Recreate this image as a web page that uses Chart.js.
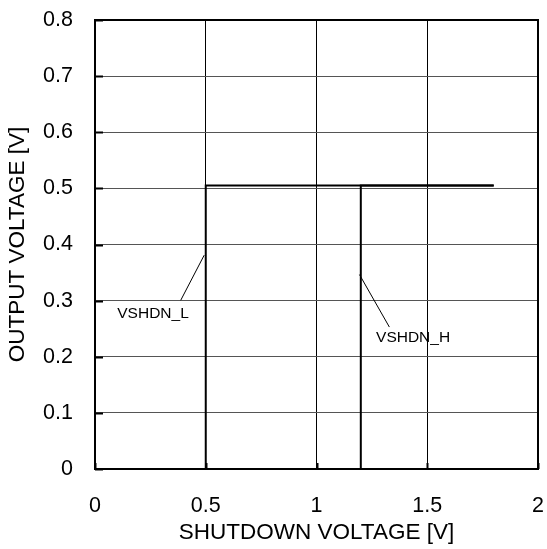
<!DOCTYPE html>
<html>
<head>
<meta charset="utf-8">
<script src="https://cdn.jsdelivr.net/npm/chart.js@4.4.1/dist/chart.umd.min.js"></script>
<style>
  html, body { margin: 0; padding: 0; background: #fff; }
  #wrap { width: 547px; height: 549px; }
</style>
</head>
<body>
<div id="wrap"><canvas id="c" width="547" height="549"></canvas></div>
<script>
// Shutdown-pin sweep: output voltage vs. shutdown voltage
const sweepUpV    = [0, 1.2, 1.2, 1.8];
const sweepUpOut  = [0, 0, 0.505, 0.505];
const sweepDownV  = [1.8, 0.5, 0.5, 0];
const sweepDownOut = [0.505, 0.505, 0, 0];

const xTicks = [0, 0.5, 1, 1.5, 2];
const yTicks = [0, 0.1, 0.2, 0.3, 0.4, 0.5, 0.6, 0.7, 0.8];

// Threshold callouts: text, text anchor, leader start, leader end (data units)
const calloutNames = ['VSHDN_L', 'VSHDN_H'];
const calloutText  = [[0.262, 0.277], [1.436, 0.2345]];
const calloutFrom  = [[0.387, 0.3006], [1.329, 0.2529]];
const calloutTo    = [[0.493, 0.381], [1.194, 0.3464]];

const FONT = '"Liberation Sans", Arial, Helvetica, sans-serif';

function pts(xs, ys) { return xs.map((x, i) => ({ x: x, y: ys[i] })); }

const frame = {
  id: 'frame',
  afterDatasetsDraw(chart) {
    const { ctx, chartArea: a, scales: { x, y } } = chart;
    ctx.save();
    ctx.strokeStyle = '#000';
    ctx.lineWidth = 2;
    // inner tick marks
    ctx.beginPath();
    yTicks.forEach(v => {
      const py = Math.round(y.getPixelForValue(v)) + 0.5;
      ctx.moveTo(a.left, py); ctx.lineTo(a.left + 8, py);
    });
    xTicks.forEach(v => {
      const px = Math.round(x.getPixelForValue(v)) + 0.5;
      ctx.moveTo(px, a.bottom); ctx.lineTo(px, a.bottom - 6);
    });
    ctx.stroke();
    // plot border
    ctx.strokeRect(a.left, a.top, a.right - a.left, a.bottom - a.top);
    // callouts
    ctx.lineWidth = 1;
    ctx.fillStyle = '#000';
    ctx.font = '15.5px ' + FONT;
    ctx.textAlign = 'center';
    ctx.textBaseline = 'middle';
    calloutNames.forEach((name, i) => {
      ctx.beginPath();
      ctx.moveTo(x.getPixelForValue(calloutFrom[i][0]), y.getPixelForValue(calloutFrom[i][1]));
      ctx.lineTo(x.getPixelForValue(calloutTo[i][0]), y.getPixelForValue(calloutTo[i][1]));
      ctx.stroke();
      ctx.fillText(name, x.getPixelForValue(calloutText[i][0]), y.getPixelForValue(calloutText[i][1]));
    });
    ctx.restore();
  }
};

new Chart(document.getElementById('c'), {
  type: 'scatter',
  data: {
    datasets: [
      { data: pts(sweepUpV, sweepUpOut), showLine: true, borderColor: '#000', borderWidth: 2,
        pointRadius: 0, fill: false, tension: 0 },
      { data: pts(sweepDownV, sweepDownOut), showLine: true, borderColor: '#000', borderWidth: 2,
        pointRadius: 0, fill: false, tension: 0 }
    ]
  },
  options: {
    responsive: false,
    animation: false,
    devicePixelRatio: 1,
    layout: { padding: { top: 20, right: 9, left: 0, bottom: 0 } },
    plugins: { legend: { display: false }, tooltip: { enabled: false } },
    scales: {
      x: {
        type: 'linear', min: 0, max: 2,
        afterBuildTicks: s => { s.ticks = xTicks.map(v => ({ value: v })); },
        afterFit: s => { s.height = 80; s.paddingLeft = 0; s.paddingRight = 0; },
        grid: { color: '#000', lineWidth: 1, drawTicks: false },
        border: { display: false },
        ticks: { padding: 24, color: '#000', font: { family: FONT, size: 21.5 },
                 callback: v => String(v) },
        title: { display: true, text: 'SHUTDOWN VOLTAGE [V]', color: '#000',
                 font: { family: FONT, size: 22.5 }, padding: { top: 0, bottom: 3 } }
      },
      y: {
        type: 'linear', min: 0, max: 0.8,
        afterBuildTicks: s => { s.ticks = yTicks.map(v => ({ value: v })); },
        afterFit: s => { s.width = 95; s.paddingTop = 0; s.paddingBottom = 0; },
        grid: { color: '#555', lineWidth: 1, drawTicks: false },
        border: { display: false },
        ticks: { padding: 22, color: '#000', font: { family: FONT, size: 21.5 },
                 callback: v => String(+v.toFixed(1)) },
        title: { display: true, text: 'OUTPUT VOLTAGE [V]', color: '#000',
                 font: { family: FONT, size: 22.5 }, padding: { top: 4, bottom: 0 } }
      }
    }
  },
  plugins: [frame]
});
</script>
</body>
</html>
